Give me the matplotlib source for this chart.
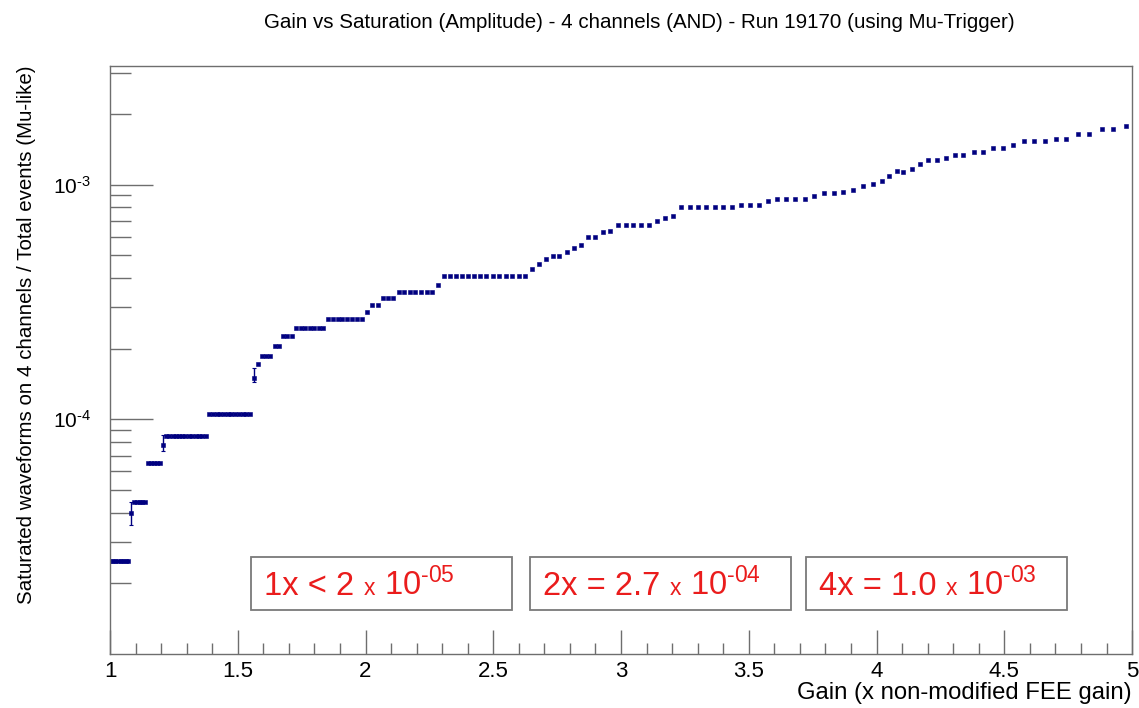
import numpy as np
import matplotlib
matplotlib.use("Agg")
import matplotlib.pyplot as plt
from matplotlib.ticker import MultipleLocator, FixedLocator, LogLocator, NullFormatter
from matplotlib.offsetbox import TextArea, HPacker, AnchoredOffsetbox
from matplotlib.patches import Rectangle

plt.rcParams['font.family'] = ['Liberation Sans', 'DejaVu Sans']
plt.rcParams['mathtext.fontset'] = 'custom'
plt.rcParams['mathtext.rm'] = 'Liberation Sans'
plt.rcParams['mathtext.it'] = 'Liberation Sans'
plt.rcParams['mathtext.bf'] = 'Liberation Sans'

# gain scan points (x non-modified FEE gain)
gain = [
    1.000, 1.010, 1.020, 1.030, 1.041, 1.051, 1.062, 1.072, 1.083, 1.094,
    1.105, 1.116, 1.127, 1.138, 1.149, 1.161, 1.173, 1.184, 1.196, 1.208,
    1.220, 1.232, 1.245, 1.257, 1.270, 1.282, 1.295, 1.308, 1.321, 1.335,
    1.348, 1.361, 1.375, 1.389, 1.403, 1.417, 1.431, 1.445, 1.460, 1.474,
    1.489, 1.504, 1.519, 1.534, 1.549, 1.565, 1.580, 1.596, 1.612, 1.628,
    1.645, 1.661, 1.678, 1.694, 1.711, 1.729, 1.746, 1.763, 1.781, 1.799,
    1.817, 1.835, 1.853, 1.872, 1.891, 1.909, 1.929, 1.948, 1.967, 1.987,
    2.007, 2.027, 2.047, 2.068, 2.088, 2.109, 2.130, 2.152, 2.173, 2.195,
    2.217, 2.239, 2.261, 2.284, 2.307, 2.330, 2.353, 2.377, 2.400, 2.424,
    2.449, 2.473, 2.498, 2.523, 2.548, 2.574, 2.599, 2.625, 2.652, 2.678,
    2.705, 2.732, 2.759, 2.787, 2.815, 2.843, 2.871, 2.900, 2.929, 2.958,
    2.988, 3.018, 3.048, 3.078, 3.109, 3.140, 3.172, 3.203, 3.235, 3.268,
    3.300, 3.333, 3.367, 3.400, 3.434, 3.469, 3.503, 3.538, 3.574, 3.610,
    3.646, 3.682, 3.719, 3.756, 3.794, 3.832, 3.870, 3.909, 3.948, 3.987,
    4.020, 4.050, 4.080, 4.104, 4.139, 4.170, 4.200, 4.237, 4.272, 4.307,
    4.339, 4.380, 4.417, 4.456, 4.495, 4.534, 4.577, 4.618, 4.660, 4.702,
    4.742, 4.789, 4.832, 4.883, 4.926, 4.977,
]

# saturated waveforms on 4 channels / total events
ratio = [
    2.5e-5, 2.5e-5, 2.5e-5, 2.5e-5, 2.5e-5, 2.5e-5, 2.5e-5, 2.5e-5, 4.0e-5, 4.46e-5,
    4.46e-5, 4.46e-5, 4.46e-5, 4.46e-5, 6.49e-5, 6.49e-5, 6.49e-5, 6.49e-5, 6.49e-5, 7.8e-5,
    8.46e-5, 8.46e-5, 8.46e-5, 8.46e-5, 8.46e-5, 8.46e-5, 8.46e-5, 8.46e-5, 8.46e-5, 8.46e-5,
    8.46e-5, 8.46e-5, 8.46e-5, 1.05e-4, 1.05e-4, 1.05e-4, 1.05e-4, 1.05e-4, 1.05e-4, 1.05e-4,
    1.05e-4, 1.05e-4, 1.05e-4, 1.05e-4, 1.05e-4, 1.5e-4, 1.72e-4, 1.86e-4, 1.86e-4, 1.86e-4,
    2.05e-4, 2.05e-4, 2.26e-4, 2.26e-4, 2.26e-4, 2.45e-4, 2.45e-4, 2.45e-4, 2.45e-4, 2.45e-4,
    2.45e-4, 2.45e-4, 2.68e-4, 2.68e-4, 2.68e-4, 2.68e-4, 2.68e-4, 2.68e-4, 2.68e-4, 2.68e-4,
    2.86e-4, 3.07e-4, 3.07e-4, 3.29e-4, 3.29e-4, 3.29e-4, 3.49e-4, 3.49e-4, 3.49e-4, 3.49e-4,
    3.49e-4, 3.49e-4, 3.49e-4, 3.75e-4, 4.08e-4, 4.08e-4, 4.08e-4, 4.08e-4, 4.08e-4, 4.08e-4,
    4.08e-4, 4.08e-4, 4.08e-4, 4.08e-4, 4.08e-4, 4.08e-4, 4.08e-4, 4.08e-4, 4.38e-4, 4.59e-4,
    4.8e-4, 4.97e-4, 4.97e-4, 5.17e-4, 5.38e-4, 5.54e-4, 6.0e-4, 6.0e-4, 6.3e-4, 6.36e-4,
    6.75e-4, 6.75e-4, 6.75e-4, 6.75e-4, 6.75e-4, 7.02e-4, 7.23e-4, 7.38e-4, 8.05e-4, 8.05e-4,
    8.05e-4, 8.05e-4, 8.05e-4, 8.05e-4, 8.05e-4, 8.22e-4, 8.22e-4, 8.22e-4, 8.55e-4, 8.71e-4,
    8.71e-4, 8.71e-4, 8.71e-4, 8.97e-4, 9.16e-4, 9.16e-4, 9.33e-4, 9.52e-4, 9.9e-4, 1.01e-3,
    1.04e-3, 1.09e-3, 1.14e-3, 1.13e-3, 1.17e-3, 1.22e-3, 1.27e-3, 1.27e-3, 1.30e-3, 1.33e-3,
    1.33e-3, 1.37e-3, 1.37e-3, 1.43e-3, 1.43e-3, 1.47e-3, 1.54e-3, 1.54e-3, 1.54e-3, 1.56e-3,
    1.56e-3, 1.64e-3, 1.64e-3, 1.72e-3, 1.72e-3, 1.77e-3,
]

# points with visible error bars
err_gain = [1.083, 1.208, 1.565]
err_ratio = [4.0e-5, 7.8e-5, 1.5e-4]
err_low = [0.44e-5, 0.5e-5, 0.06e-4]
err_high = [0.46e-5, 0.8e-5, 0.15e-4]

y_major = [1e-4, 1e-3]
y_major_labels = ["$10^{\\text{-4}}$", "$10^{\\text{-3}}$"]

box_texts = [
    ("1x < 2 ", "10$^{\\text{-05}}$"),
    ("2x = 2.7 ", "10$^{\\text{-04}}$"),
    ("4x = 1.0 ", "10$^{\\text{-03}}$"),
]
box_left = [0.138, 0.411, 0.681]

navy = '#000080'
frame = '#6e6e6e'
red = '#ea1c1c'

fig = plt.figure(figsize=(11.39, 7.08), dpi=100)
ax = fig.add_axes([0.0966, 0.0763, 0.8973, 0.8305])

ax.plot(gain, ratio, 's', color=navy, ms=2.5, mec=navy, mew=0.4)
ax.errorbar(err_gain, err_ratio, yerr=[err_low, err_high], fmt='none',
            ecolor=navy, elinewidth=1.0, capsize=1.5, capthick=0.8)

ax.set_yscale('log')
ax.set_xlim(1, 5)
ax.set_ylim(1e-5, 3.2e-3)

ax.xaxis.set_major_locator(MultipleLocator(0.5))
ax.xaxis.set_minor_locator(MultipleLocator(0.1))
ax.xaxis.set_major_formatter(plt.FuncFormatter(lambda v, p: f"{v:g}"))
ax.yaxis.set_major_locator(FixedLocator(y_major))
ax.yaxis.set_major_formatter(plt.FixedFormatter(y_major_labels))
ax.yaxis.set_minor_locator(LogLocator(base=10, subs=np.arange(2, 10), numticks=20))
ax.yaxis.set_minor_formatter(NullFormatter())

ax.tick_params(which='both', direction='in', color=frame, width=1.0,
               top=False, right=False)
ax.tick_params(axis='x', which='major', length=17, pad=5, labelsize=16)
ax.tick_params(axis='x', which='minor', length=8)
ax.tick_params(axis='y', which='major', length=31, pad=14, labelsize=15)
ax.tick_params(axis='y', which='minor', length=15)
for s in ax.spines.values():
    s.set_color(frame)
    s.set_linewidth(1.0)

ax.set_xlabel("Gain (x non-modified FEE gain)", fontsize=17.2, loc='right', labelpad=0)
ax.set_ylabel("Saturated waveforms on 4 channels / Total events (Mu-like)", fontsize=14.8,
              loc='top', labelpad=12)
fig.suptitle("Gain vs Saturation (Amplitude) - 4 channels (AND) - Run 19170 (using Mu-Trigger)",
             fontsize=14.8, x=0.561, y=0.982)

for (lead, power), x0 in zip(box_texts, box_left):
    ax.add_patch(Rectangle((x0, 0.0748), 0.255, 0.090, transform=ax.transAxes,
                           fill=False, edgecolor='#7a7a7a', lw=1.3, zorder=3))
    parts = HPacker(children=[
        TextArea(lead, textprops=dict(color=red, fontsize=23.5)),
        TextArea("x", textprops=dict(color=red, fontsize=16.5)),
        TextArea(" " + power, textprops=dict(color=red, fontsize=23.5)),
    ], align='baseline', pad=0, sep=0)
    anchored = AnchoredOffsetbox(loc='center left', child=parts, pad=0, borderpad=0,
                                 frameon=False, bbox_to_anchor=(x0 + 0.013, 0.0748 + 0.043),
                                 bbox_transform=ax.transAxes)
    ax.add_artist(anchored)

fig.savefig('out.png', dpi=100)
